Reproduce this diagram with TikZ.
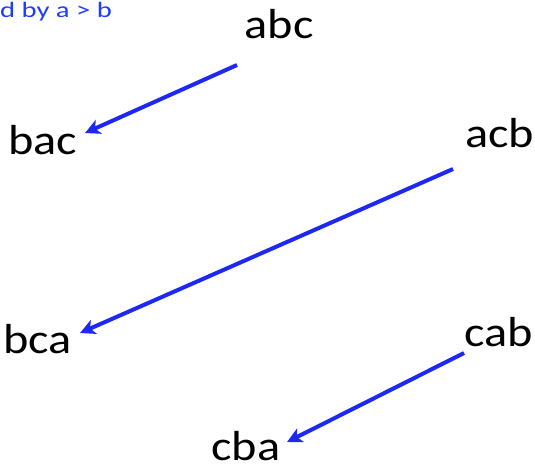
\documentclass[tikz,border=0pt]{standalone}
\usepackage{fontspec}
\setmainfont{Carlito}
\usetikzlibrary{arrows.meta}
\definecolor{arrowblue}{RGB}{30,40,245}
\definecolor{noteblue}{RGB}{30,60,255}
\tikzset{
  perm/.style={anchor=base, inner sep=0pt, text depth=0pt, font=\fontsize{42}{46}\selectfont},
  link/.style={draw=arrowblue, line width=4pt, -{Stealth[length=15pt,width=15pt,inset=4pt]}},
}
\newcommand{\wide}[1]{\scalebox{1.15}[1]{#1}}
\newcommand{\notewide}[1]{\scalebox{1.3}[1]{#1}}
\begin{document}
\begin{tikzpicture}[x=1pt,y=-1pt]
\useasboundingbox (0,0) rectangle (535,466);
\node[anchor=base west, inner sep=0pt, text=noteblue, font=\fontsize{22}{25}\selectfont] (note) at (0,17) {\notewide{d by a > b}};
\node[perm] (abc) at (279,38) {\wide{abc}};
\node[perm] (bac) at (42.5,154) {\wide{bac}};
\node[perm] (acb) at (499.5,147) {\wide{acb}};
\node[perm] (bca) at (37.5,353) {\wide{bca}};
\node[perm] (cab) at (499,346) {\wide{cab}};
\node[perm] (cba) at (246,460) {\wide{cba}};
\coordinate (s1) at (237,65);
\coordinate (e1) at (85,133);
\coordinate (s2) at (453,169);
\coordinate (e2) at (80,333);
\coordinate (s3) at (464,353);
\coordinate (e3) at (287,442);
\draw[link] (s1) -- (e1);
\draw[link] (s2) -- (e2);
\draw[link] (s3) -- (e3);
\end{tikzpicture}
\end{document}
